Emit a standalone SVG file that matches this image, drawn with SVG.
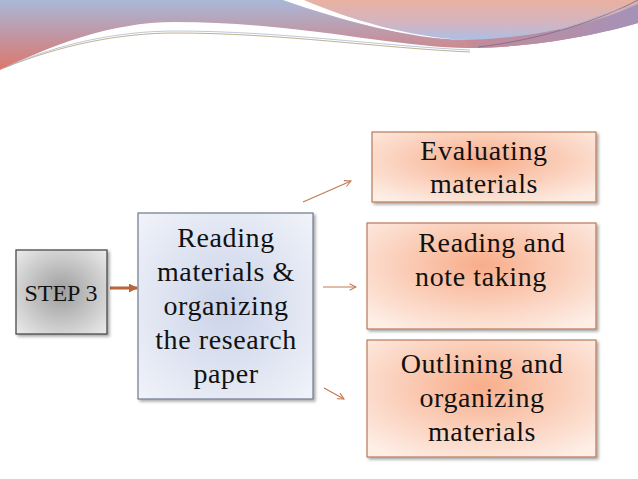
<svg xmlns="http://www.w3.org/2000/svg" width="638" height="479" viewBox="0 0 638 479">
  <defs>
    <linearGradient id="bandGrad" x1="0" y1="0" x2="0" y2="72" gradientUnits="userSpaceOnUse">
      <stop offset="0" stop-color="#a9b8d8"/>
      <stop offset="0.5" stop-color="#c295a2"/>
      <stop offset="1" stop-color="#de7668"/>
    </linearGradient>
    <linearGradient id="rightBand" x1="470" y1="0" x2="638" y2="0" gradientUnits="userSpaceOnUse">
      <stop offset="0" stop-color="#c48b98"/>
      <stop offset="1" stop-color="#a592b8"/>
    </linearGradient>
    <linearGradient id="peachGrad" x1="0" y1="0" x2="0" y2="42" gradientUnits="userSpaceOnUse">
      <stop offset="0" stop-color="#e9b1a1"/>
      <stop offset="0.55" stop-color="#d3b5c0"/>
      <stop offset="1" stop-color="#a8bfe9"/>
    </linearGradient>
    <radialGradient id="grayGrad" cx="0.5" cy="0.5" r="0.7">
      <stop offset="0" stop-color="#9d9d9d"/>
      <stop offset="1" stop-color="#ebebeb"/>
    </radialGradient>
    <radialGradient id="blueGrad" cx="0.5" cy="0.5" r="0.7">
      <stop offset="0" stop-color="#cad3e9"/>
      <stop offset="1" stop-color="#f1f3f9"/>
    </radialGradient>
    <radialGradient id="orangeGrad" cx="0.5" cy="0.4" r="0.7">
      <stop offset="0" stop-color="#f8ad8a"/>
      <stop offset="1" stop-color="#fdeee6"/>
    </radialGradient>
    <filter id="shadow" x="-10%" y="-10%" width="125%" height="125%">
      <feDropShadow dx="2" dy="2" stdDeviation="1.5" flood-color="#000" flood-opacity="0.35"/>
    </filter>
    <marker id="thickHead" viewBox="0 0 10 10" refX="9" refY="5" markerWidth="3" markerHeight="3" orient="auto">
      <path d="M0,0 L10,5 L0,10 Z" fill="#b8653a"/>
    </marker>
    <marker id="openHead" viewBox="0 0 10 10" refX="9" refY="5" markerWidth="8" markerHeight="8" orient="auto" markerUnits="userSpaceOnUse">
      <path d="M1,1 L9,5 L1,9" fill="none" stroke="#c27a54" stroke-width="1.3"/>
    </marker>
    <style>
      .lbl { font-family: "Liberation Serif", "Times New Roman", serif; font-size: 28px; fill: #111; text-anchor: middle; letter-spacing: 0.6px; }
      .step { font-family: "Liberation Serif", "Times New Roman", serif; font-size: 24px; fill: #111; text-anchor: middle; }
      .thin { stroke: #c27a54; stroke-width: 1.2; fill: none; marker-end: url(#openHead); }
      .orange { fill: url(#orangeGrad); stroke: #b97a58; stroke-width: 1.2; filter: url(#shadow); }
    </style>
  </defs>

  <rect x="0" y="0" width="638" height="479" fill="#ffffff"/>

  <!-- header decoration -->
  <g id="header">
    <path d="M0,0 H638 V23 C600,34 540,47 472,48 C400,49 300,22 175,22 C110,22 50,46 0,70 Z" fill="url(#bandGrad)"/>
    <path d="M465,40 C540,38 600,22 638,4 V23 C600,34 540,47 472,48 Z" fill="url(#rightBand)"/>
    <path d="M300,0 H638 V3 C600,22 540,38 465,40 C410,38 350,20 300,0 Z" fill="url(#peachGrad)"/>
    <path d="M283,0 H304 C350,20 410,37 465,40 C410,39 340,20 283,0 Z" fill="#ffffff"/>
    <path d="M4,68 C60,45 120,33 175,33 C280,33 380,48 470,52" fill="none" stroke="#b8a888" stroke-width="0.9"/>
    <path d="M6,67 C60,43 120,31 175,31 C280,31 380,46 470,50" fill="none" stroke="#9fb0c8" stroke-width="0.7"/>
    <path d="M478,47 C540,40 600,20 638,0" fill="none" stroke="#7d6f8a" stroke-width="0.9"/>
    <path d="M560,30 C590,20 615,10 638,4" fill="none" stroke="#b5a7c0" stroke-width="0.7"/>
  </g>

  <g id="connectors">
    <line x1="110" y1="288" x2="137" y2="288" stroke="#b8653a" stroke-width="3" marker-end="url(#thickHead)"/>
    <line class="thin" x1="303" y1="202" x2="351" y2="181"/>
    <line class="thin" x1="323" y1="287" x2="356" y2="287"/>
    <line class="thin" x1="324" y1="388" x2="344" y2="399"/>
  </g>

  <g id="step3">
    <rect x="16" y="250" width="91" height="84" fill="url(#grayGrad)" stroke="#4a4a4a" stroke-width="1.3" filter="url(#shadow)"/>
    <text class="step" x="61" y="301">STEP 3</text>
  </g>

  <g id="reading-organizing">
    <rect x="138" y="213" width="175" height="186" fill="url(#blueGrad)" stroke="#6f7890" stroke-width="1.2" filter="url(#shadow)"/>
    <text class="lbl" x="226" y="247">Reading</text>
    <text class="lbl" x="226" y="281">materials &amp;</text>
    <text class="lbl" x="226" y="315">organizing</text>
    <text class="lbl" x="226" y="349">the research</text>
    <text class="lbl" x="226" y="383">paper</text>
  </g>

  <g id="evaluating">
    <rect class="orange" x="372" y="132" width="224" height="70"/>
    <text class="lbl" x="484" y="160">Evaluating</text>
    <text class="lbl" x="484" y="193">materials</text>
  </g>

  <g id="note-taking">
    <rect class="orange" x="367" y="223" width="229" height="106"/>
    <text class="lbl" x="492" y="252">Reading and</text>
    <text class="lbl" x="481" y="286">note taking</text>
  </g>

  <g id="outlining">
    <rect class="orange" x="367" y="340" width="229" height="117"/>
    <text class="lbl" x="482" y="373">Outlining and</text>
    <text class="lbl" x="482" y="407">organizing</text>
    <text class="lbl" x="482" y="441">materials</text>
  </g>
</svg>
